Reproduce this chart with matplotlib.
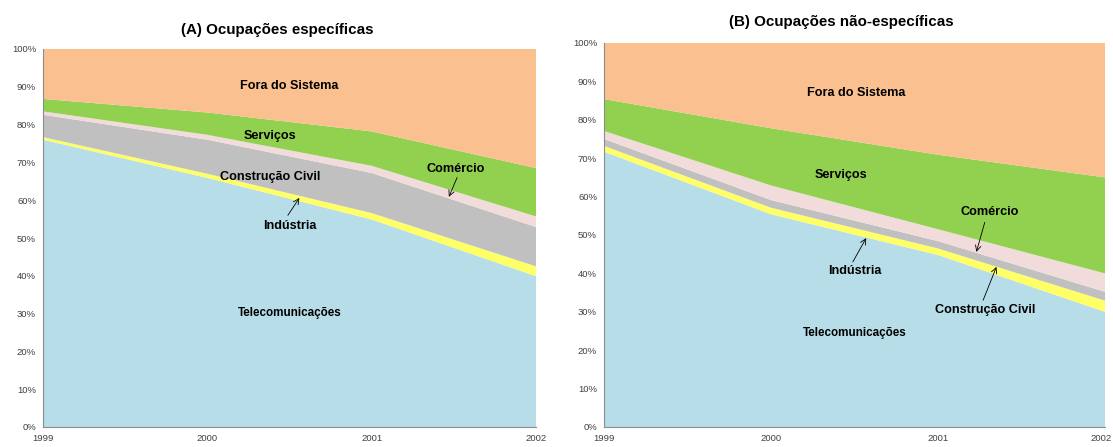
import matplotlib
matplotlib.use("Agg")
import matplotlib.pyplot as plt
import matplotlib.transforms as mtransforms

years = [1999, 2000, 2001, 2002]
series_names = ["Telecomunicações", "Indústria", "Construção Civil", "Comércio", "Serviços", "Fora do Sistema"]
colors = ["#B7DDE8", "#FFFF66", "#C0C0C0", "#F2DCDB", "#92D050", "#FAC090"]

# Panel A: Ocupações específicas (share, %)
a_telecom = [76.0, 65.9, 54.9, 39.9]
a_industria = [0.7, 1.1, 1.7, 2.6]
a_construcao = [5.9, 9.0, 10.6, 10.4]
a_comercio = [0.9, 1.3, 1.9, 2.8]
a_servicos = [3.3, 5.9, 9.1, 12.8]
a_fora = [13.2, 16.8, 21.8, 31.5]

# Panel B: Ocupações não-específicas (share, %)
b_telecom = [71.7, 55.4, 44.8, 30.0]
b_industria = [1.5, 1.7, 1.7, 2.9]
b_construcao = [1.8, 2.0, 1.9, 2.3]
b_comercio = [2.1, 3.8, 3.1, 4.8]
b_servicos = [8.3, 14.9, 19.4, 25.0]
b_fora = [14.6, 22.2, 29.1, 35.0]

y_ticks = list(range(0, 101, 10))
y_tick_labels = [f"{v}%" for v in y_ticks]

W, H = 1113, 447
fig = plt.figure(figsize=(W / 100, H / 100), dpi=100)

def make_ax(l, r, t, b):
    return fig.add_axes([l / W, 1 - b / H, (r - l) / W, (b - t) / H])

axA = make_ax(43, 536, 49, 427)
axB = make_ax(604, 1105, 43, 427)

font = ["Liberation Sans", "DejaVu Sans"]

def style(ax):
    ax.set_xlim(years[0], years[-1])
    ax.set_ylim(0, 100)
    ax.set_xticks(years)
    ax.set_xticklabels([str(y) for y in years])
    ax.set_yticks(y_ticks)
    ax.set_yticklabels(y_tick_labels)
    ax.tick_params(length=0, labelsize=6.8, colors="#404040", pad=5)
    for lab in ax.get_xticklabels() + ax.get_yticklabels():
        lab.set_family(font)
    for s in ["top", "right"]:
        ax.spines[s].set_visible(False)
    for s in ["left", "bottom"]:
        ax.spines[s].set_color("#8C8C8C")
        ax.spines[s].set_linewidth(0.8)
        ax.spines[s].set_zorder(5)

kw = dict(ha="center", va="center", fontsize=9.1, fontweight="bold", family=font, color="black")
kw_tel = {**kw, "fontsize": 8.4}
arrow = dict(arrowstyle="->", color="black", lw=0.6, shrinkA=0, shrinkB=0)

axA.stackplot(years, a_telecom, a_industria, a_construcao, a_comercio, a_servicos, a_fora,
              colors=colors, labels=series_names, linewidth=0)
style(axA)
axA.set_title("(A) Ocupações específicas", fontsize=10.9, fontweight="bold", family=font, pad=11, x=0.4746)
axA.text(2000.5, 90.2, "Fora do Sistema", **kw)
axA.text(2000.38, 77.0, "Serviços", **kw)
axA.text(2000.38, 66.1, "Construção Civil", **kw)
axA.text(2001.51, 68.3, "Comércio", **kw)
axA.annotate("", xy=(2001.47, 60.9), xytext=(2001.52, 66.0), arrowprops=arrow)
axA.text(2000.5, 53.2, "Indústria", **kw)
axA.annotate("", xy=(2000.56, 60.6), xytext=(2000.49, 56.0), arrowprops=arrow)
axA.text(2000.5, 30.2, "Telecomunicações", **kw_tel)

axB.stackplot(years, b_telecom, b_industria, b_construcao, b_comercio, b_servicos, b_fora,
              colors=colors, labels=series_names, linewidth=0)
style(axB)
axB.set_title("(B) Ocupações não-específicas", fontsize=10.9, fontweight="bold", family=font, pad=12, x=0.474)
# keep the last year label inside the figure
last = axB.get_xticklabels()[-1]
last.set_transform(last.get_transform() + mtransforms.ScaledTranslation(-4 / 100, 0, fig.dpi_scale_trans))
axB.text(2000.51, 87.0, "Fora do Sistema", **kw)
axB.text(2000.42, 65.6, "Serviços", **kw)
axB.text(2001.31, 56.0, "Comércio", **kw)
axB.annotate("", xy=(2001.23, 45.6), xytext=(2001.28, 53.3), arrowprops=arrow)
axB.text(2000.5, 40.6, "Indústria", **kw)
axB.annotate("", xy=(2000.57, 49.2), xytext=(2000.49, 43.0), arrowprops=arrow)
axB.text(2001.28, 30.5, "Construção Civil", **kw)
axB.annotate("", xy=(2001.35, 41.7), xytext=(2001.27, 33.0), arrowprops=arrow)
axB.text(2000.5, 24.5, "Telecomunicações", **kw_tel)

fig.savefig("out.png", dpi=100)
